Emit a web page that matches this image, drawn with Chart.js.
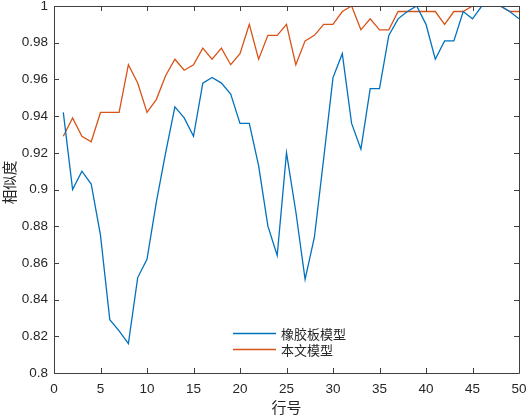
<!DOCTYPE html>
<html>
<head>
<meta charset="utf-8">
<script src="https://cdn.jsdelivr.net/npm/chart.js@4.4.1/dist/chart.umd.min.js"></script>
<style>
html,body{margin:0;padding:0;background:#fff;}
#wrap{width:529px;height:416px;}
</style>
</head>
<body>
<div id="wrap"><canvas id="c" width="529" height="416"></canvas></div>
<script>
const rows = Array.from({length: 50}, (_, i) => i + 1);
const rubberModel = [0.942, 0.900, 0.910, 0.903, 0.875, 0.829, 0.823, 0.816, 0.852, 0.862,
  0.893, 0.920, 0.945, 0.939, 0.929, 0.958, 0.961, 0.958, 0.952, 0.936,
  0.936, 0.913, 0.880, 0.864, 0.920, 0.888, 0.851, 0.874, 0.917, 0.961,
  0.974, 0.936, 0.922, 0.955, 0.955, 0.984, 0.993, 0.997, 1.000, 0.990,
  0.971, 0.981, 0.981, 0.997, 0.993, 1.000, 1.000, 1.000, 0.997, 0.993];
const ourModel = [0.929, 0.939, 0.929, 0.926, 0.942, 0.942, 0.942, 0.968, 0.958, 0.942,
  0.949, 0.962, 0.971, 0.965, 0.968, 0.977, 0.971, 0.977, 0.968, 0.974,
  0.990, 0.971, 0.984, 0.984, 0.990, 0.968, 0.981, 0.984, 0.990, 0.990,
  0.997, 1.000, 0.987, 0.993, 0.987, 0.987, 0.997, 0.997, 0.997, 0.997,
  0.997, 0.990, 0.997, 0.997, 1.000, 1.000, 1.000, 1.000, 0.997, 0.997];
const seriesNames = ['橡胶板模型', '本文模型'];
const xTitle = '行号';
const yTitle = '相似度';

const FONT = "'Liberation Sans', Arial, 'Noto Sans CJK SC', sans-serif";
const CJK = "'Noto Sans CJK SC', sans-serif";
const AXIS_COLOR = '#262626';

const boxTicks = {
  id: 'boxTicks',
  afterDraw(chart) {
    const ctx = chart.ctx;
    const a = chart.chartArea;
    const xs = chart.scales.x, ys = chart.scales.y;
    const L = 5;
    ctx.save();
    ctx.strokeStyle = '#404040';
    ctx.lineWidth = 1;
    ctx.beginPath();
    ctx.rect(Math.round(a.left) + 0.5, Math.round(a.top) + 0.5, Math.round(a.right - a.left), Math.round(a.bottom - a.top));
    ctx.stroke();
    ctx.beginPath();
    xs.ticks.forEach(t => {
      const px = Math.round(xs.getPixelForValue(t.value)) + 0.5;
      ctx.moveTo(px, a.bottom); ctx.lineTo(px, a.bottom - L);
      ctx.moveTo(px, a.top); ctx.lineTo(px, a.top + L);
    });
    ys.ticks.forEach(t => {
      const py = Math.round(ys.getPixelForValue(t.value)) + 0.5;
      ctx.moveTo(a.left, py); ctx.lineTo(a.left + L, py);
      ctx.moveTo(a.right, py); ctx.lineTo(a.right - L, py);
    });
    ctx.stroke();
    // y title
    ctx.save();
    ctx.translate(9.5, 182.5);
    ctx.rotate(-Math.PI / 2);
    ctx.font = "14.5px " + CJK;
    ctx.fillStyle = AXIS_COLOR;
    ctx.textAlign = 'center';
    ctx.textBaseline = 'middle';
    ctx.fillText(yTitle, 0, 0);
    ctx.restore();
    // legend
    const lx0 = 233, lx1 = 276, tx = 281;
    const ly = [333.5, 349.5];
    ctx.font = "13px " + CJK;
    ctx.textBaseline = 'middle';
    ctx.textAlign = 'left';
    chart.data.datasets.forEach((ds, i) => {
      ctx.strokeStyle = ds.borderColor;
      ctx.lineWidth = 1.3;
      ctx.beginPath();
      ctx.moveTo(lx0, ly[i]); ctx.lineTo(lx1, ly[i]);
      ctx.stroke();
      ctx.fillStyle = AXIS_COLOR;
      ctx.fillText(ds.label, tx, ly[i] + 0.5);
    });
    ctx.restore();
  }
};

new Chart(document.getElementById('c'), {
  type: 'line',
  data: {
    labels: rows,
    datasets: [
      { label: seriesNames[0], data: rows.map((x, i) => ({x, y: rubberModel[i]})),
        borderColor: '#0072BD', borderWidth: 1.3, pointRadius: 0, tension: 0, fill: false },
      { label: seriesNames[1], data: rows.map((x, i) => ({x, y: ourModel[i]})),
        borderColor: '#D95319', borderWidth: 1.3, pointRadius: 0, tension: 0, fill: false }
    ]
  },
  options: {
    responsive: false,
    animation: false,
    devicePixelRatio: 1,
    layout: { padding: { top: 6, right: 10, left: 0, bottom: 0 } },
    plugins: { legend: { display: false }, tooltip: { enabled: false } },
    scales: {
      x: {
        type: 'linear', min: 0, max: 50,
        ticks: { stepSize: 5, color: AXIS_COLOR, font: { family: FONT, size: 13.5 }, padding: 8, maxRotation: 0 },
        grid: { display: false, drawTicks: false },
        border: { display: false },
        title: { display: true, text: xTitle, color: AXIS_COLOR, font: { family: CJK, size: 15 }, padding: { top: 0, bottom: 0 } },
        afterFit(s) { s.height = 43; s.paddingLeft = 0; s.paddingRight = 0; }
      },
      y: {
        type: 'linear', min: 0.8, max: 1,
        ticks: { stepSize: 0.02, color: AXIS_COLOR, font: { family: FONT, size: 13.5 }, padding: 6,
          callback: v => String(Math.round(v * 100) / 100) },
        grid: { display: false, drawTicks: false },
        border: { display: false },
        title: { display: false },
        afterFit(s) { s.width = 54; s.paddingTop = 0; s.paddingBottom = 0; }
      }
    }
  },
  plugins: [boxTicks]
});
</script>
</body>
</html>
